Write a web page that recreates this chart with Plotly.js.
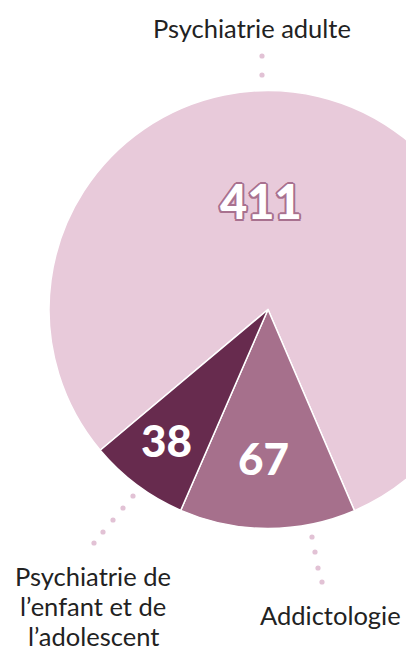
<!DOCTYPE html>
<html>
<head>
<meta charset="utf-8">
<script src="https://cdn.plot.ly/plotly-3.0.1.min.js"></script>
<style>
  html, body { margin: 0; padding: 0; overflow: hidden; background: #ffffff; }
  #chart { width: 520px; height: 653px; }
</style>
</head>
<body>
<div id="chart"></div>
<script>
// ---- Data ----
const categories = ["Psychiatrie adulte", "Addictologie", "Psychiatrie de<br>l\u2019enfant et de<br>l\u2019adolescent"];
const values = [411, 67, 38];
const sliceColors = ["#e8cada", "#a6708c", "#672b4e"];

// ---- Layout helpers (pixel -> paper) ----
const W = 520, H = 653;
const px = x => x / W;
const py = y => 1 - y / H;

const cx = 268, cy = 309.5, R = 219;

const trace = {
  type: "pie",
  values: values,
  labels: categories,
  sort: false,
  direction: "clockwise",
  rotation: -130,
  marker: { colors: sliceColors, line: { color: "#ffffff", width: 1.5 } },
  textinfo: "none",
  hoverinfo: "none",
  showlegend: false,
  domain: { x: [px(cx - R), px(cx + R)], y: [py(cy + R), py(cy - R)] }
};

// number labels (placed inside slices)
const numPos = [[261, 201], [263, 458], [166, 440]];
const numFonts = [
  { family: "Lato, 'Open Sans', sans-serif", size: 47, color: "#ffffff", weight: 900,
    shadow: "2px 0 0 #a8718f, -2px 0 0 #a8718f, 0 2px 0 #a8718f, 0 -2px 0 #a8718f, 1.5px 1.5px 0 #a8718f, -1.5px -1.5px 0 #a8718f, 1.5px -1.5px 0 #a8718f, -1.5px 1.5px 0 #a8718f" },
  { family: "Lato, 'Open Sans', sans-serif", size: 44, color: "#ffffff", weight: 900 },
  { family: "Lato, 'Open Sans', sans-serif", size: 44, color: "#ffffff", weight: 900 }
];

// category labels (outside): position of first line, line spacing
const catPos = [[252, 28], [330, 615], [93, 576]];
const lineGap = 30;
const labelFont = { family: "Lato, 'Open Sans', sans-serif", size: 25.5, color: "#222222" };

const annotations = [];
values.forEach((v, i) => {
  annotations.push({
    xref: "paper", yref: "paper", x: px(numPos[i][0]), y: py(numPos[i][1]),
    xanchor: "center", yanchor: "middle", showarrow: false,
    text: String(v), font: numFonts[i]
  });
  categories[i].split("<br>").forEach((line, k) => {
    annotations.push({
      xref: "paper", yref: "paper", x: px(catPos[i][0]), y: py(catPos[i][1] + k * lineGap),
      xanchor: "center", yanchor: "middle", align: "center", showarrow: false,
      text: line, font: labelFont
    });
  });
});

// dotted leader lines
const dots = [
  [262, 56], [262, 75],
  [312, 537], [315, 552], [318, 568], [322, 582],
  [133, 496], [123, 508], [113, 520], [103, 532], [94, 543]
];
const dotR = 2.6;
const shapes = dots.map(d => ({
  type: "circle", xref: "paper", yref: "paper",
  x0: px(d[0] - dotR), x1: px(d[0] + dotR),
  y0: py(d[1] + dotR), y1: py(d[1] - dotR),
  fillcolor: "#e2c2d5", line: { width: 0 }
}));

const layout = {
  width: W, height: H,
  margin: { l: 0, r: 0, t: 0, b: 0, pad: 0 },
  paper_bgcolor: "#ffffff",
  plot_bgcolor: "#ffffff",
  showlegend: false,
  annotations: annotations,
  shapes: shapes
};

Plotly.newPlot("chart", [trace], layout, { displayModeBar: false, staticPlot: true });
</script>
</body>
</html>
